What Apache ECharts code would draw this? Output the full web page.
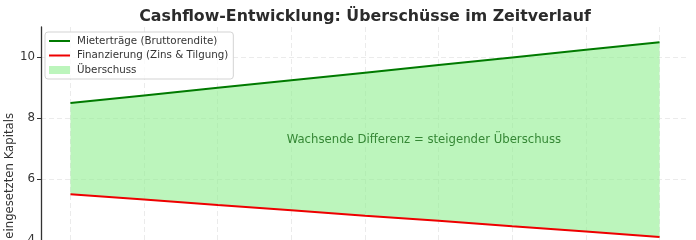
<!DOCTYPE html>
<html>
<head>
<meta charset="utf-8">
<script src="https://cdn.jsdelivr.net/npm/echarts@6/dist/echarts.min.js"></script>
<style>
html,body{margin:0;padding:0;background:#fff;}
#c{width:696px;height:240px;}
</style>
</head>
<body>
<div id="c"></div>
<script>
// ---- data ----
var periods = [0, 1, 2, 3, 4, 5, 6, 7, 8];
var mieterErtraege = [8.5, 8.75, 9.0, 9.25, 9.5, 9.75, 10.0, 10.25, 10.5];
var finanzierung = [5.5, 5.33, 5.15, 4.98, 4.8, 4.63, 4.45, 4.28, 4.1];
var seriesNames = ['Mieterträge (Bruttorendite)', 'Finanzierung (Zins & Tilgung)', 'Überschuss'];
var titleText = 'Cashflow-Entwicklung: Überschüsse im Zeitverlauf';
var yAxisTitle = 'Rendite in % des eingesetzten Kapitals';
var annotText = 'Wachsende Differenz = steigender Überschuss';
var annotPos = [4.8, 7.3];
var yTicks = { min: 4, max: 11, step: 2 };

// ---- build ----
var FONT = 'DejaVu Sans';
var lineGreen = periods.map(function (p, i) { return [p, mieterErtraege[i]]; });
var lineRed = periods.map(function (p, i) { return [p, finanzierung[i]]; });

var chart = echarts.init(document.getElementById('c'), null, { renderer: 'canvas' });
var fill = 'rgba(144,238,144,0.6)';
var gridLine = { color: '#ebebeb', width: 1, type: [5, 3] };
chart.setOption({
  animation: false,
  textStyle: { fontFamily: FONT },
  grid: { left: 41, right: 7, top: 27, bottom: 0, containLabel: false, outerBoundsMode: 'none' },
  graphic: [
    { type: 'text', x: 365, y: 17, z: 100,
      style: { text: titleText, fill: '#2b2b2b', font: 'bold 15.8px "DejaVu Sans"', textAlign: 'center', textVerticalAlign: 'middle' } },
    { type: 'text', x: 10, y: 113, rotation: Math.PI / 2, z: 100,
      style: { text: yAxisTitle, fill: '#333', font: '11.7px "DejaVu Sans"', textAlign: 'right', textVerticalAlign: 'middle' } }
  ],
  legend: {
    left: 45, top: 32, orient: 'vertical',
    itemWidth: 21, itemHeight: 8, itemGap: 2.5,
    padding: [3, 5, 3, 4],
    backgroundColor: 'rgba(255,255,255,0.8)',
    borderColor: '#d3d3d3', borderWidth: 1, borderRadius: 3,
    textStyle: { fontSize: 10.3, color: '#333', fontFamily: FONT, lineHeight: 12, padding: [0, 0, 0, 2] },
    data: [
      { name: seriesNames[0], icon: 'path://M0,0H21V2H0Z' },
      { name: seriesNames[1], icon: 'path://M0,0H21V2H0Z' },
      { name: seriesNames[2], icon: 'rect' }
    ]
  },
  xAxis: {
    type: 'value', min: -0.4, max: 8.4, minInterval: 1, maxInterval: 1,
    axisLine: { show: false }, axisTick: { show: false }, axisLabel: { show: false },
    splitLine: { show: true, showMinLine: false, showMaxLine: false, lineStyle: gridLine }
  },
  yAxis: {
    type: 'value', min: yTicks.min, max: yTicks.max, interval: yTicks.step,
    axisLine: { show: true, onZero: false, lineStyle: { color: '#333', width: 1.3 } },
    axisTick: { show: true, length: 4, lineStyle: { color: '#333' } },
    axisLabel: { fontSize: 11.8, color: '#333', margin: 6, fontFamily: FONT, showMaxLabel: false },
    splitLine: { show: true, showMinLine: false, showMaxLine: false, lineStyle: gridLine }
  },
  series: [
    { name: seriesNames[2], type: 'custom', data: [0], z: 1,
      itemStyle: { color: fill },
      renderItem: function (params, api) {
        var pts = [];
        for (var i = 0; i < periods.length; i++) pts.push(api.coord([periods[i], mieterErtraege[i]]));
        for (var j = periods.length - 1; j >= 0; j--) pts.push(api.coord([periods[j], finanzierung[j]]));
        return { type: 'polygon', shape: { points: pts }, style: { fill: fill } };
      }
    },
    { name: seriesNames[0], type: 'line', data: lineGreen, symbol: 'none',
      itemStyle: { color: '#007a00' }, lineStyle: { color: '#007a00', width: 2 }, z: 3 },
    { name: seriesNames[1], type: 'line', data: lineRed, symbol: 'none',
      itemStyle: { color: '#ee0000' }, lineStyle: { color: '#ee0000', width: 2 }, z: 3 },
    { name: '_annot', type: 'scatter', data: [annotPos], symbolSize: 0, z: 4,
      label: { show: true, position: 'inside', formatter: annotText,
        color: '#136b13', fontSize: 11.7, fontFamily: FONT } }
  ]
});
</script>
</body>
</html>
